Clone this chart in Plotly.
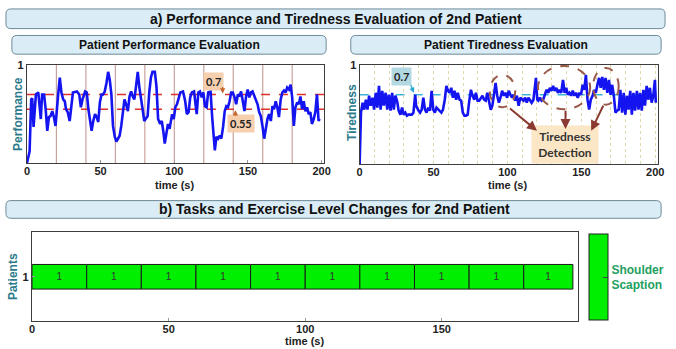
import plotly.graph_objects as go

W, H = 676, 349

# ---------------- data ----------------
perf_t = [0, 1.8, 2.9, 3.6, 4.5, 5.4, 6.1, 7.7, 8.3, 9.4,
          10.3, 11.6, 12.7, 13.8, 14.9, 16.0, 17.2, 18.3, 19.4, 20.1,
          21.2, 22.3, 23.4, 24.6, 25.7, 26.5, 27.7, 29.0, 30.1, 31.2,
          33.9, 35.5, 36.6, 37.7, 39.5, 40.6, 41.7, 42.8, 43.9, 45.0,
          46.2, 47.3, 48.4, 49.5, 50.6, 51.7, 52.8, 54.0, 55.1, 56.2,
          57.3, 58.4, 59.6, 60.7, 61.8, 62.9, 64.0, 65.1, 66.2, 67.3,
          68.5, 69.6, 70.7, 71.8, 72.9, 74.0, 75.2, 76.3, 77.4, 78.5,
          79.6, 80.7, 81.9, 83.0, 84.1, 85.2, 86.8, 87.9, 89.0, 90.4,
          91.5, 92.6, 93.5, 94.6, 95.7, 96.8, 97.6, 98.5, 99.6, 100.7,
          101.8, 102.9, 104.1, 105.9, 107.4, 108.5, 109.7, 110.8, 111.9, 113.4,
          114.6, 115.2, 116.3, 117.4, 118.6, 119.7, 120.8, 121.9, 123.0, 124.6,
          125.7, 126.4, 127.5, 128.6, 129.7, 130.8, 131.9, 133.1, 134.2, 135.3,
          136.4, 137.5, 138.6, 139.7, 140.9, 142.0, 143.1, 144.2, 145.3, 146.5,
          147.6, 148.7, 149.8, 150.9, 152.0, 153.1, 154.3, 155.4, 156.5, 157.6,
          158.7, 159.9, 161.0, 162.1, 163.2, 164.3, 165.5, 166.6, 167.7, 168.8,
          169.9, 171.0, 172.2, 173.3, 174.4, 175.5, 176.6, 177.8, 178.9, 180.0,
          181.1, 182.2, 183.4, 184.5, 185.6, 186.7, 187.8, 189.0, 190.1, 191.2,
          192.3, 193.4, 194.6, 195.7, 196.8, 197.9, 198.6]
perf_v = [0, 0.12, 0.65, 0.66, 0.37, 0.52, 0.70, 0.72, 0.62, 0.45,
          0.70, 0.70, 0.55, 0.33, 0.47, 0.48, 0.53, 0.47, 0.38, 0.55,
          0.70, 0.87, 0.72, 0.65, 0.63, 0.55, 0.52, 0.43, 0.55, 0.72,
          0.73, 0.70, 0.57, 0.65, 0.73, 0.72, 0.55, 0.42, 0.33, 0.43,
          0.50, 0.47, 0.42, 0.62, 0.70, 0.70, 0.73, 0.82, 0.93, 0.85,
          0.70, 0.38, 0.27, 0.22, 0.25, 0.28, 0.38, 0.55, 0.65, 0.60,
          0.53, 0.68, 0.73, 0.68, 0.65, 0.78, 0.93, 0.77, 0.68, 0.55,
          0.43, 0.45, 0.48, 0.72, 0.87, 0.93, 0.93, 0.78, 0.45, 0.40,
          0.43, 0.32, 0.20, 0.30, 0.40, 0.35, 0.43, 0.50, 0.45, 0.57,
          0.60, 0.67, 0.72, 0.73, 0.63, 0.50, 0.52, 0.67, 0.72, 0.73,
          0.60, 0.50, 0.72, 0.73, 0.67, 0.72, 0.58, 0.57, 0.72, 0.73,
          0.47, 0.30, 0.13, 0.27, 0.25, 0.28, 0.25, 0.37, 0.53, 0.58,
          0.57, 0.63, 0.72, 0.72, 0.67, 0.60, 0.70, 0.68, 0.73, 0.63,
          0.53, 0.68, 0.75, 0.67, 0.72, 0.73, 0.68, 0.63, 0.60, 0.52,
          0.48, 0.37, 0.25, 0.35, 0.45, 0.50, 0.43, 0.58, 0.55, 0.63,
          0.57, 0.47, 0.65, 0.72, 0.74, 0.72, 0.77, 0.75, 0.80, 0.67,
          0.38, 0.57, 0.62, 0.60, 0.68, 0.55, 0.63, 0.53, 0.57, 0.50,
          0.52, 0.40, 0.45, 0.52, 0.70, 0.43, 0.45]

tired_t = [0, 0.9, 2.0, 3.1, 4.2, 5.3, 6.4, 7.5, 8.7, 9.8,
           10.9, 12.0, 13.1, 14.2, 15.3, 16.4, 17.6, 18.7, 19.8, 20.9,
           22.0, 23.1, 24.2, 25.3, 26.4, 27.6, 28.7, 29.8, 30.9, 32.0,
           33.1, 34.2, 35.3, 36.4, 37.6, 38.2, 39.1, 39.8, 40.9, 42.0,
           43.1, 44.2, 45.3, 46.4, 47.6, 48.7, 49.8, 50.9, 52.0, 53.1,
           54.2, 55.3, 56.4, 57.6, 58.7, 59.8, 60.9, 62.0, 63.1, 64.2,
           65.3, 66.4, 67.6, 68.7, 69.8, 70.9, 72.0, 73.1, 74.2, 75.3,
           76.4, 77.6, 78.7, 79.8, 80.9, 82.0, 83.1, 84.2, 85.3, 86.4,
           87.6, 88.7, 89.8, 90.9, 92.0, 93.1, 94.2, 95.3, 96.4, 97.6,
           98.7, 99.8, 100.9, 102.0, 103.1, 104.2, 105.3, 106.4, 107.6, 108.7,
           109.8, 110.9, 112.0, 113.1, 114.2, 115.3, 116.4, 117.6, 118.7, 119.3,
           120.2, 120.9, 122.0, 123.1, 124.2, 125.3, 126.4, 127.6, 128.7, 129.8,
           130.9, 132.0, 133.1, 134.2, 135.3, 136.4, 137.6, 138.7, 139.8, 140.9,
           142.0, 143.1, 144.2, 145.3, 146.4, 147.6, 148.7, 149.8, 150.9, 152.0,
           153.1, 154.2, 155.3, 156.4, 157.6, 158.7, 159.8, 160.9, 162.0, 163.1,
           164.2, 165.3, 166.4, 167.6, 168.7, 169.8, 170.9, 172.0, 173.1, 174.2,
           175.3, 176.4, 177.6, 178.7, 179.8, 180.9, 182.0, 183.1, 184.2, 185.3,
           186.4, 187.6, 188.7, 189.8, 190.9, 192.0, 193.1, 194.2, 195.3, 196.4,
           197.6, 198.7, 199.8, 200.4]
tired_v = [0, 0.52, 0.62, 0.55, 0.65, 0.55, 0.69, 0.59, 0.67, 0.55,
           0.72, 0.57, 0.79, 0.55, 0.74, 0.59, 0.72, 0.55, 0.70, 0.54,
           0.72, 0.55, 0.69, 0.64, 0.54, 0.50, 0.57, 0.50, 0.52, 0.49,
           0.50, 0.50, 0.50, 0.52, 0.70, 0.59, 0.55, 0.54, 0.52, 0.55,
           0.67, 0.55, 0.52, 0.57, 0.54, 0.74, 0.55, 0.52, 0.57, 0.55,
           0.54, 0.52, 0.55, 0.65, 0.79, 0.74, 0.72, 0.77, 0.67, 0.74,
           0.65, 0.72, 0.65, 0.64, 0.52, 0.49, 0.49, 0.50, 0.64, 0.75,
           0.69, 0.65, 0.72, 0.64, 0.64, 0.67, 0.69, 0.65, 0.64, 0.72,
           0.62, 0.55, 0.59, 0.72, 0.82, 0.69, 0.62, 0.67, 0.74, 0.69,
           0.72, 0.67, 0.74, 0.70, 0.67, 0.70, 0.64, 0.69, 0.59, 0.67,
           0.65, 0.64, 0.67, 0.62, 0.67, 0.64, 0.62, 0.65, 0.77, 0.87,
           0.65, 0.64, 0.67, 0.64, 0.65, 0.70, 0.75, 0.72, 0.77, 0.74,
           0.79, 0.74, 0.77, 0.72, 0.75, 0.72, 0.85, 0.72, 0.77, 0.70,
           0.72, 0.69, 0.74, 0.69, 0.72, 0.67, 0.72, 0.70, 0.80, 0.75,
           0.90, 0.65, 0.55, 0.65, 0.69, 0.75, 0.72, 0.80, 0.87, 0.77,
           0.88, 0.75, 0.87, 0.72, 0.85, 0.70, 0.80, 0.69, 0.52, 0.54,
           0.55, 0.75, 0.52, 0.72, 0.50, 0.69, 0.55, 0.74, 0.50, 0.72,
           0.54, 0.74, 0.55, 0.72, 0.54, 0.75, 0.59, 0.79, 0.65, 0.77,
           0.62, 0.69, 0.85, 0.62]

perf_thresholds = [0.7, 0.55]
tired_threshold = 0.7
task_changes = [20, 40, 60, 80, 100, 120, 140, 160, 180]
task_start = [0, 20, 40, 60, 80, 100, 120, 140, 160, 180]
task_dur = [20, 20, 20, 20, 20, 20, 20, 20, 20, 18]
task_level = [1, 1, 1, 1, 1, 1, 1, 1, 1, 1]
task_patient = [1, 1, 1, 1, 1, 1, 1, 1, 1, 1]
exercise_names = ["Shoulder<br>Scaption"]
time_ticks = [0, 50, 100, 150, 200]
tired_grid = [0, 10, 20, 30, 40, 50, 60, 70, 80, 90, 100, 110, 120, 130, 140, 150,
              160, 170, 180, 190, 200]
tired_grid_text = ["0", "", "", "", "", "50", "", "", "", "", "100", "", "", "", "", "150",
                   "", "", "", "", "200"]
bottom_ticks = [0, 50, 100, 150]

# ---------------- helpers (layout only) ----------------
def px(x):
    return x / W

def py(y):
    return 1 - y / H

SANS = "Liberation Sans, Arial, sans-serif"
NARROW = "Liberation Sans, Arial, sans-serif"
CAL = "Lato, Carlito, Open Sans, sans-serif"
TEAL = "#2b7a8b"
FRAME = "#3c3c3c"

def rrect(x0, y0, x1, y1, r):
    rx, ry = r / W, r / H
    X0, X1 = px(x0), px(x1)
    Y0, Y1 = py(y0), py(y1)
    return (f"M {X0+rx},{Y0} L {X1-rx},{Y0} Q {X1},{Y0} {X1},{Y0-ry} "
            f"L {X1},{Y1+ry} Q {X1},{Y1} {X1-rx},{Y1} L {X0+rx},{Y1} "
            f"Q {X0},{Y1} {X0},{Y1+ry} L {X0},{Y0-ry} Q {X0},{Y0} {X0+rx},{Y0} Z")

fig = go.Figure()

fig.add_trace(go.Scatter(x=perf_t, y=perf_v, mode="lines", xaxis="x", yaxis="y",
                         line=dict(color="#1414f0", width=2.6), showlegend=False))
fig.add_trace(go.Scatter(x=tired_t, y=tired_v, mode="lines", xaxis="x2", yaxis="y2",
                         line=dict(color="#1414f0", width=2.6), showlegend=False))
fig.add_trace(go.Bar(base=task_start, x=task_dur, y=task_patient, orientation="h",
                     xaxis="x3", yaxis="y3", width=0.275,
                     text=[str(v) for v in task_level], textposition="inside",
                     insidetextanchor="middle", textangle=0,
                     textfont=dict(family=SANS, size=10, color="#333333"),
                     marker=dict(color=task_level, cmin=0.5, cmax=1.5,
                                 colorscale=[[0, "#00ee00"], [1, "#00ee00"]],
                                 line=dict(color="#1a1a1a", width=1),
                                 showscale=True,
                                 colorbar=dict(x=px(595), xanchor="left", y=py(276), yanchor="middle",
                                               len=88 / H, lenmode="fraction", thickness=19,
                                               thicknessmode="pixels", xpad=0, ypad=0,
                                               outlinewidth=1, outlinecolor="#222",
                                               tickvals=[1], ticktext=exercise_names,
                                               ticks="inside", ticklen=5, tickcolor="#444",
                                               tickfont=dict(family=SANS, size=12, color="#22a060",
                                                             weight="bold"))),
                     showlegend=False, hoverinfo="skip"))

tickfont = dict(family=SANS, size=11, color="#222", weight="bold")
common = dict(showline=True, mirror=True, linecolor=FRAME, linewidth=1.3, zeroline=False,
              tickfont=tickfont, fixedrange=True)
inside_ticks = dict(ticks="inside", ticklen=3, tickcolor="#999")

fig.update_layout(
    width=W, height=H, margin=dict(l=0, r=0, t=0, b=0),
    paper_bgcolor="white", plot_bgcolor="white",
    xaxis=dict(domain=[px(24.3), px(326)], range=[0, 201.7], tickvals=time_ticks,
               showgrid=False, anchor="y", ticklabelstandoff=-3, **common, **inside_ticks),
    yaxis=dict(domain=[py(160), py(60)], range=[0, 1], tickvals=[1], showgrid=False,
               anchor="x", **common, **inside_ticks),
    xaxis2=dict(domain=[px(362), px(665)], range=[0, 202], tickvals=tired_grid,
                ticktext=tired_grid_text, ticks="", ticklabelstandoff=-3,
                showgrid=True, gridcolor="#e0d8ae", griddash="dot", gridwidth=1,
                anchor="y2", **common),
    yaxis2=dict(domain=[py(161), py(60)], range=[0, 1], tickvals=[1], showgrid=False,
                anchor="x2", **common, **inside_ticks),
    xaxis3=dict(domain=[px(29.5), px(584)], range=[0, 200], tickvals=bottom_ticks,
                showgrid=False, anchor="y3", ticklabelstandoff=-3, **common, **inside_ticks),
    yaxis3=dict(domain=[py(321), py(230)], range=[0.5, 1.5], tickvals=[1], showgrid=False,
                anchor="x3", **common, **inside_ticks),
)

shapes = []
for (x0, y0, x1, y1) in [(3, 3, 672, 23), (9, 30, 328, 49), (353, 30, 668, 49), (3, 198, 668, 216)]:
    shapes.append(dict(type="path", xref="paper", yref="paper", path=rrect(x0, y0, x1, y1, 5),
                       fillcolor="#daecf5", line=dict(color="#6e8a99", width=1), layer="below"))
for tc in task_changes:
    shapes.append(dict(type="line", xref="x", yref="y domain", x0=tc, x1=tc, y0=0, y1=1,
                       line=dict(color="#c9a29c", width=1.2), layer="below"))
for th in perf_thresholds:
    shapes.append(dict(type="line", xref="x domain", yref="y", x0=0, x1=1, y0=th, y1=th,
                       line=dict(color="#e0302a", width=1.6, dash="dash"), layer="below"))
shapes.append(dict(type="line", xref="x2 domain", yref="y2", x0=0, x1=1, y0=tired_threshold,
                   y1=tired_threshold, line=dict(color="#3cb4d8", width=1.6, dash="dash"),
                   layer="below"))
for (a0, a1, b0, b1) in [(88, 105.3, 0.574, 0.90), (120.7, 156, 0.554, 0.99), (158, 175.3, 0.60, 0.97)]:
    shapes.append(dict(type="circle", xref="x2", yref="y2", x0=a0, x1=a1, y0=b0, y1=b1,
                       line=dict(color="#9a5a4a", width=2, dash="dash")))
fig.update_layout(shapes=shapes)

ann = []
def text(x, y, s, size, color="#111", family=SANS, angle=0, bold=True, **kw):
    ann.append(dict(xref="paper", yref="paper", x=px(x), y=py(y), text=s, showarrow=False,
                    textangle=angle, xanchor="center", yanchor="middle",
                    font=dict(family=family, size=size, color=color,
                              weight="bold" if bold else "normal"), **kw))

text(338, 13, "a) Performance and Tiredness Evaluation of 2nd Patient", 14, family=NARROW)
text(168.5, 39.5, "Patient Performance Evaluation", 12, family=NARROW)
text(510.5, 39.5, "Patient Tiredness Evaluation", 12, family=NARROW)
text(336, 207, "b) Tasks and Exercise Level Changes for 2nd Patient", 14, family=NARROW)

text(15, 110, "Performance", 12, color=TEAL, angle=-90)
text(174, 182, "time (s)", 11, color="#222")
text(354, 108, "Tiredness", 12, color=TEAL, angle=-90)
text(512, 182, "time (s)", 11, color="#222")
text(10, 275, "Patients", 12, color=TEAL, angle=-90)
text(306, 341, "time (s)", 11, color="#222")

ann.append(dict(xref="x", yref="y", x=126.8, y=0.83, text="0.7", showarrow=False,
                bgcolor="#f6cfae", borderpad=2, font=dict(family=CAL, size=11, color="#222", weight="bold")))
ann.append(dict(xref="x", yref="y", x=145.5, y=0.40, text="0.55", showarrow=False,
                bgcolor="#f6cfae", borderpad=2, font=dict(family=CAL, size=11, color="#222", weight="bold")))
ann.append(dict(xref="x", yref="y", x=132.8, y=0.71, ax=132.8, ay=0.79, axref="x", ayref="y",
                text="", showarrow=True, arrowhead=2, arrowsize=0.8, arrowwidth=1.3,
                arrowcolor="#c8642a"))
ann.append(dict(xref="x", yref="y", x=141.5, y=0.54, ax=141.5, ay=0.47, axref="x", ayref="y",
                text="", showarrow=True, arrowhead=2, arrowsize=0.8, arrowwidth=1.3,
                arrowcolor="#c8642a"))
ann.append(dict(xref="x2", yref="y2", x=28, y=0.88, text="0.7", showarrow=False,
                bgcolor="#b2d8e2", borderpad=2, font=dict(family=CAL, size=11, color="#222", weight="bold")))
ann.append(dict(xref="x2", yref="y2", x=36.7, y=0.72, ax=34.2, ay=0.81, axref="x2", ayref="y2",
                text="", showarrow=True, arrowhead=2, arrowsize=0.8, arrowwidth=1.3,
                arrowcolor="#2aa8d0"))
ann.append(dict(xref="paper", yref="paper", x=px(570.5), y=py(140.5), xanchor="center",
                yanchor="middle", text="Tiredness<br>Detection", showarrow=False,
                bgcolor="#fbe6c6", borderpad=3, width=60, align="center",
                font=dict(family=CAL, size=12, color="#333", weight="bold")))
for (hx, hy, tx, ty) in [(120, 0.337, 100.7, 0.574), (139.3, 0.356, 139.3, 0.554), (156.7, 0.337, 165.3, 0.604)]:
    ann.append(dict(xref="x2", yref="y2", x=hx, y=hy, ax=tx, ay=ty, axref="x2", ayref="y2",
                    text="", showarrow=True, arrowhead=2, arrowsize=1, arrowwidth=2,
                    arrowcolor="#8b3a32"))

fig.update_layout(annotations=ann)
fig.write_html("out.html", config={"displayModeBar": False},
               post_script="document.body.style.margin='0';document.body.style.padding='0';")
